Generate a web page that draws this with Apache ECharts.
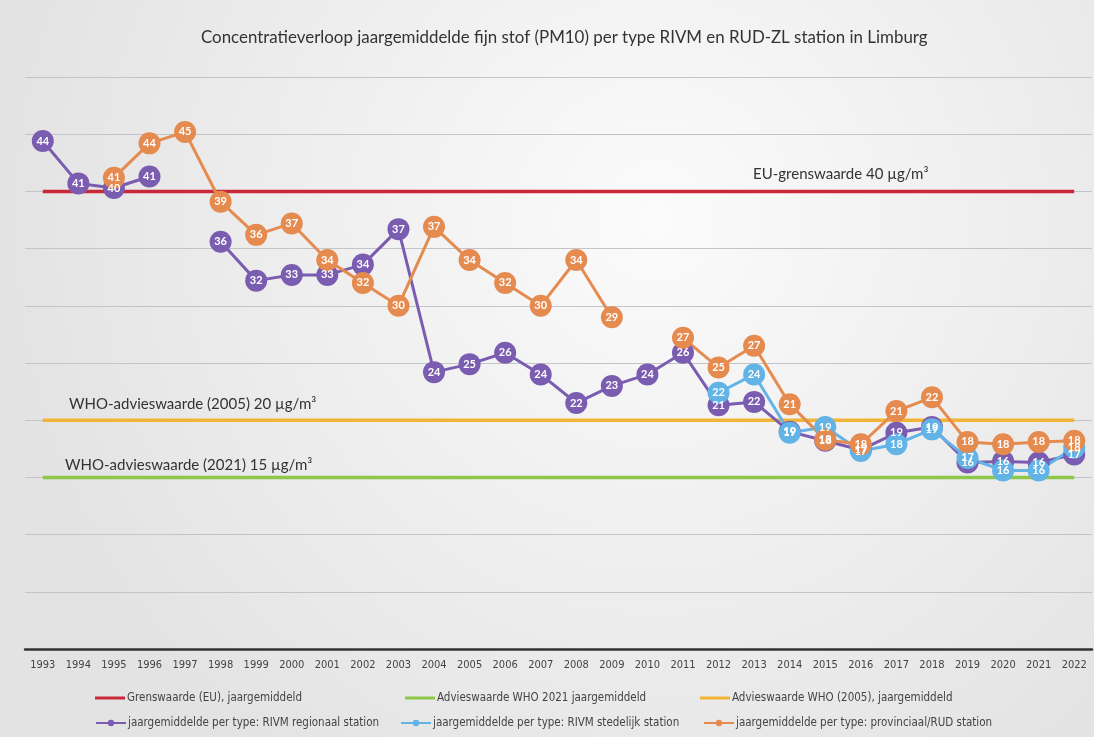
<!DOCTYPE html>
<html>
<head>
<meta charset="utf-8">
<title>PM10 Limburg</title>
<script src="https://cdn.jsdelivr.net/npm/echarts@6/dist/echarts.min.js"></script>
<style>
  html, body { margin: 0; padding: 0; background: #ebebeb; }
  #chart { width: 1094px; height: 737px; }
</style>
</head>
<body>
<div id="chart"></div>
<script>
'use strict';

const years = ['1993', '1994', '1995', '1996', '1997', '1998', '1999', '2000', '2001', '2002',
  '2003', '2004', '2005', '2006', '2007', '2008', '2009', '2010', '2011', '2012',
  '2013', '2014', '2015', '2016', '2017', '2018', '2019', '2020', '2021', '2022'];

// jaargemiddelden (µg/m³)
const regionaal = [44.4, 40.7, 40.3, 41.3, null, 35.6, 32.2, 32.7, 32.7, 33.6,
  36.7, 24.2, 24.9, 25.9, 24.0, 21.5, 23.0, 24.0, 25.9, 21.3,
  21.6, 19.0, 18.2, 17.4, 18.9, 19.4, 16.3, 16.4, 16.3, 17.0];
const stedelijk = [null, null, null, null, null, null, null, null, null, null,
  null, null, null, null, null, null, null, null, null, 22.4,
  24.0, 18.9, 19.4, 17.3, 17.9, 19.2, 16.7, 15.6, 15.6, 17.6];
const provinciaal = [null, null, 41.2, 44.2, 45.2, 39.1, 36.2, 37.2, 34.0, 32.0,
  30.0, 36.9, 34.0, 32.0, 30.0, 34.0, 29.0, null, 27.2, 24.6,
  26.5, 21.4, 18.3, 17.9, 20.8, 22.0, 18.1, 17.9, 18.1, 18.2];

const EU_LIMIT = 40;
const WHO_2005 = 20;
const WHO_2021 = 15;

const FONT = 'Lato';
const NARROW = '"Liberation Sans Narrow", "DejaVu Sans Condensed", sans-serif';

const chart = echarts.init(document.getElementById('chart'));

const refLine = (name, value, color) => ({
  name,
  type: 'line',
  data: years.map(() => value),
  symbol: 'none',
  silent: true,
  z: 1,
  lineStyle: { color, width: 3.5 },
  itemStyle: { color },
});

const dataLine = (name, data, color) => ({
  name,
  type: 'line',
  data,
  connectNulls: false,
  symbol: 'circle',
  symbolSize: 22,
  z: 3,
  lineStyle: { color, width: 3 },
  itemStyle: { color },
  label: {
    show: true,
    position: 'inside',
    color: '#fff',
    fontFamily: FONT,
    fontWeight: 'bold',
    fontSize: 11,
    formatter: (p) => Math.round(p.value),
  },
});

const legendItem = (name, left, top, plain) => ({
  data: [plain ? { name, icon: 'rect' } : name],
  left,
  top,
  padding: 0,
  itemWidth: 30,
  itemHeight: plain ? 3 : 8,
  itemGap: 0,
  selectedMode: false,
  textStyle: { fontFamily: NARROW, fontSize: 11.5, color: '#444', padding: [0, 0, 0, -3] },
});

const option = {
  backgroundColor: {
    type: 'radial', x: 0.6, y: 0.3, r: 0.9,
    colorStops: [{ offset: 0, color: '#fbfbfb' }, { offset: 1, color: '#e3e3e3' }],
  },
  animation: false,
  title: {
    text: 'Concentratieverloop jaargemiddelde fijn stof (PM10) per type RIVM en RUD-ZL station in Limburg',
    left: 196,
    top: 24,
    textStyle: { fontFamily: FONT, fontSize: 16.9, fontWeight: 'normal', color: '#333' },
  },
  legend: [
    legendItem('Grenswaarde (EU), jaargemiddeld', 95, 692, true),
    legendItem('Advieswaarde WHO 2021 jaargemiddeld', 405, 692, true),
    legendItem('Advieswaarde WHO (2005), jaargemiddeld', 700, 692, true),
    legendItem('jaargemiddelde per type: RIVM regionaal station', 95, 717),
    legendItem('jaargemiddelde per type: RIVM stedelijk station', 400, 717),
    legendItem('jaargemiddelde per type: provinciaal/RUD station', 703, 717),
  ],
  grid: { left: 25, right: 2, top: 77, bottom: 88 },
  xAxis: {
    type: 'category',
    data: years,
    boundaryGap: true,
    axisLine: { lineStyle: { color: '#333', width: 2.5 } },
    axisTick: { show: false },
    axisLabel: { fontFamily: NARROW, fontSize: 11, color: '#444', margin: 11, interval: 0 },
  },
  yAxis: {
    type: 'value',
    min: 0,
    max: 50,
    interval: 5,
    axisLabel: { show: false },
    axisLine: { show: false },
    axisTick: { show: false },
    splitLine: { lineStyle: { color: '#c3c3ca', width: 1 } },
  },
  graphic: [
    { type: 'text', left: 753, top: 167,
      style: { text: 'EU-grenswaarde 40 µg/m³', font: '15px ' + FONT, fill: '#333' } },
    { type: 'text', left: 69, top: 397,
      style: { text: 'WHO-advieswaarde (2005) 20 µg/m³', font: '15px ' + FONT, fill: '#333' } },
    { type: 'text', left: 65, top: 458,
      style: { text: 'WHO-advieswaarde (2021) 15 µg/m³', font: '15px ' + FONT, fill: '#333' } },
  ],
  series: [
    refLine('Grenswaarde (EU), jaargemiddeld', EU_LIMIT, '#c8283a'),
    refLine('Advieswaarde WHO 2021 jaargemiddeld', WHO_2021, '#8dc84a'),
    refLine('Advieswaarde WHO (2005), jaargemiddeld', WHO_2005, '#f2b437'),
    dataLine('jaargemiddelde per type: RIVM regionaal station', regionaal, '#7a5db0'),
    dataLine('jaargemiddelde per type: RIVM stedelijk station', stedelijk, '#62b3e6'),
    dataLine('jaargemiddelde per type: provinciaal/RUD station', provinciaal, '#e58b50'),
  ],
};

chart.setOption(option);
</script>
</body>
</html>
